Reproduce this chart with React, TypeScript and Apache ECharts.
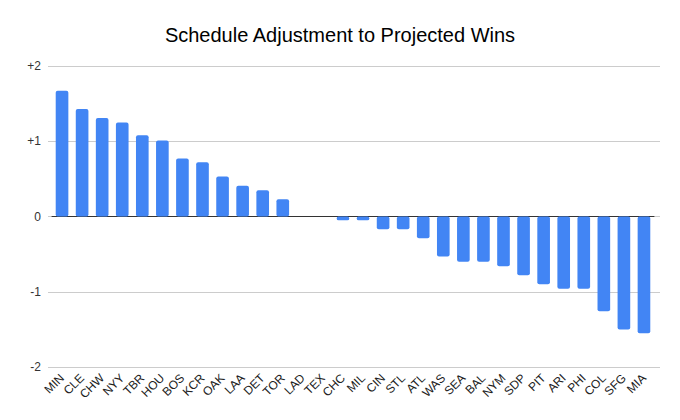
import React, { useEffect, useRef } from "react";
import * as echarts from "echarts";

const teams = ["MIN","CLE","CHW","NYY","TBR","HOU","BOS","KCR","OAK","LAA","DET","TOR","LAD","TEX","CHC","MIL","CIN","STL","ATL","WAS","SEA","BAL","NYM","SDP","PIT","ARI","PHI","COL","SFG","MIA"];
const adjustment = [1.67,1.43,1.31,1.25,1.08,1.01,0.77,0.72,0.53,0.41,0.35,0.23,0,0,-0.05,-0.05,-0.17,-0.17,-0.29,-0.53,-0.6,-0.6,-0.66,-0.78,-0.9,-0.96,-0.96,-1.26,-1.5,-1.55];
const yMin = -2;
const yMax = 2;
const title = "Schedule Adjustment to Projected Wins";

export default function App() {
  const ref = useRef<HTMLDivElement>(null);
  useEffect(() => {
    const chart = echarts.init(ref.current!, null, { renderer: "svg" });
    const fmt = (v: number) => (v > 0 ? "+" + v : String(v));
    chart.setOption({
      animation: false,
      backgroundColor: "#ffffff",
      title: {
        text: title,
        left: "center",
        top: 20,
        textStyle: { fontFamily: "Liberation Sans, Arial, sans-serif", fontSize: 20, fontWeight: "normal", color: "#000" },
      },
      grid: [
        { left: 48, right: 20, top: 66, bottom: 53 },
        { left: 52, right: 26, top: 66, bottom: 53 },
      ],
      xAxis: [
        { type: "category", gridIndex: 0, data: teams, show: false },
        {
          type: "category",
          gridIndex: 1,
          data: teams,
          axisLine: { lineStyle: { color: "#333", width: 1 } },
          axisTick: { show: false },
          axisLabel: {
            rotate: 45,
            interval: 0,
            margin: 9,
            fontFamily: "Liberation Sans, Arial, sans-serif",
            fontSize: 12,
            color: "#222",
          },
        },
      ],
      yAxis: [
        {
          type: "value",
          gridIndex: 0,
          min: yMin,
          max: yMax,
          interval: 1,
          axisLine: { show: false },
          axisTick: { show: false },
          splitLine: { lineStyle: { color: "#cccccc" } },
          axisLabel: {
            formatter: fmt,
            margin: 7,
            fontFamily: "Liberation Sans, Arial, sans-serif",
            fontSize: 12,
            color: "#333",
          },
        },
        {
          type: "value",
          gridIndex: 1,
          min: yMin,
          max: yMax,
          interval: 1,
          show: true,
          axisLine: { show: false },
          axisTick: { show: false },
          splitLine: { show: false },
          axisLabel: { show: false },
        },
      ],
      series: [
        {
          type: "bar",
          xAxisIndex: 1,
          yAxisIndex: 1,
          data: adjustment,
          barWidth: "63%",
          itemStyle: { color: "#4285F4", borderRadius: 2 },
        },
      ],
    });
    return () => chart.dispose();
  }, []);
  return <div ref={ref} style={{ position: "absolute", left: 0, top: 0, width: 680, height: 420 }} />;
}
